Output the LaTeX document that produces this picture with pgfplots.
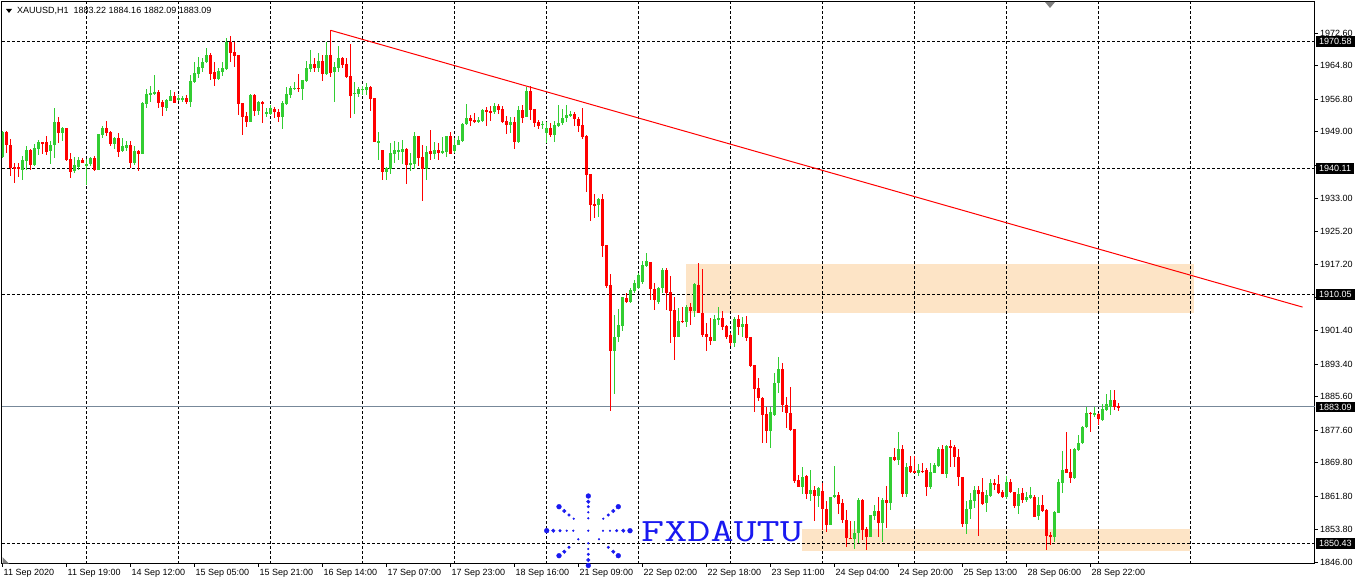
\documentclass[border=0pt]{standalone}
\usepackage{graphicx}
\usepackage{pgfplots}
\pgfplotsset{compat=1.18}
\usepackage{pgfplotstable}
\usepackage{fontspec}
\setmainfont{Liberation Sans}
\definecolor{cgreen}{RGB}{50,205,50}
\definecolor{cred}{RGB}{255,0,0}
\definecolor{peach}{RGB}{253,228,198}
\definecolor{bidgrey}{RGB}{119,136,153}
\definecolor{wmblue}{RGB}{25,25,240}

\pgfplotstableread{
i O H L C
0 1942.84 1949.06 1942.68 1948.82
1 1948.90 1949.22 1943.87 1945.71
2 1945.87 1947.23 1938.29 1940.28
3 1940.52 1941.48 1936.69 1940.12
4 1940.44 1941.48 1938.13 1939.96
5 1939.88 1943.08 1937.49 1942.20
6 1942.04 1945.47 1939.88 1944.59
7 1944.59 1944.91 1939.88 1941.08
8 1941.08 1946.03 1940.84 1945.07
9 1944.91 1946.99 1943.48 1946.51
10 1946.51 1946.51 1943.64 1946.27
11 1946.51 1948.02 1943.48 1944.11
12 1944.43 1946.67 1941.24 1945.87
13 1945.71 1954.65 1942.68 1951.30
14 1951.30 1952.49 1946.27 1948.74
15 1948.74 1950.18 1946.75 1949.94
16 1949.86 1949.86 1942.04 1942.20
17 1942.44 1943.87 1937.89 1939.33
18 1939.49 1942.84 1939.01 1941.08
19 1940.60 1942.84 1939.88 1942.20
20 1942.20 1942.68 1941.48 1941.56
21 1940.92 1942.52 1936.29 1941.24
22 1941.24 1942.84 1940.68 1942.68
23 1942.68 1943.08 1939.65 1939.88
24 1939.88 1948.42 1939.88 1948.42
25 1948.26 1950.42 1947.47 1949.86
26 1949.86 1951.46 1947.86 1948.58
27 1948.82 1949.22 1945.47 1946.03
28 1946.03 1947.79 1944.91 1947.47
29 1947.47 1948.58 1942.92 1944.11
30 1944.43 1947.47 1944.11 1945.47
31 1945.07 1946.83 1944.43 1945.87
32 1945.87 1946.83 1940.28 1941.48
33 1941.48 1945.47 1940.92 1944.35
34 1944.35 1944.67 1939.65 1943.64
35 1943.64 1956.08 1943.64 1955.84
36 1955.61 1959.20 1954.65 1958.00
37 1957.84 1959.99 1956.08 1958.24
38 1958.08 1962.55 1957.84 1958.48
39 1958.48 1958.96 1954.65 1955.84
40 1956.16 1956.56 1952.73 1954.89
41 1954.65 1956.88 1953.85 1956.64
42 1956.40 1958.96 1956.24 1957.44
43 1957.44 1958.48 1955.84 1955.84
44 1956.72 1957.84 1956.32 1957.12
45 1956.72 1957.44 1956.08 1957.12
46 1957.04 1957.84 1955.61 1956.08
47 1956.01 1962.55 1954.97 1961.11
48 1960.95 1965.74 1960.55 1962.95
49 1962.87 1966.94 1961.75 1964.54
50 1964.31 1966.54 1963.35 1965.74
51 1965.58 1969.09 1965.34 1967.34
52 1967.34 1967.74 1961.35 1962.79
53 1963.35 1965.58 1960.00 1961.59
54 1961.59 1964.15 1961.35 1963.51
55 1963.35 1965.58 1962.39 1964.31
56 1963.99 1971.49 1963.75 1970.53
57 1970.53 1971.97 1965.74 1967.74
58 1968.14 1970.53 1964.54 1967.18
59 1967.34 1967.34 1952.97 1955.61
60 1955.77 1955.77 1948.19 1952.57
61 1952.73 1953.61 1950.18 1951.38
62 1951.38 1958.00 1951.38 1957.76
63 1957.76 1957.92 1952.81 1953.93
64 1953.93 1956.33 1952.97 1956.01
65 1956.01 1956.33 1951.14 1955.61
66 1953.29 1954.73 1952.57 1953.77
67 1953.21 1955.37 1952.97 1954.57
68 1954.41 1954.97 1952.34 1953.77
69 1953.77 1954.41 1951.22 1952.57
70 1952.57 1956.33 1949.54 1955.77
71 1955.61 1959.76 1955.37 1958.00
72 1957.76 1959.92 1957.12 1959.36
73 1959.12 1960.79 1958.96 1959.52
74 1959.52 1962.71 1958.56 1959.20
75 1959.20 1961.35 1956.56 1961.35
76 1961.11 1965.90 1960.95 1964.31
77 1963.99 1968.53 1963.19 1965.10
78 1965.18 1966.54 1963.35 1964.15
79 1964.31 1967.74 1963.35 1965.90
80 1965.90 1967.34 1961.19 1962.79
81 1962.71 1970.53 1962.55 1967.34
82 1967.34 1973.25 1962.15 1963.11
83 1963.19 1965.74 1956.17 1964.54
84 1964.31 1969.57 1963.19 1966.70
85 1966.70 1966.94 1964.15 1964.94
86 1965.18 1966.54 1961.75 1962.15
87 1962.31 1969.97 1952.34 1957.60
88 1958.08 1960.79 1953.13 1958.32
89 1958.08 1959.76 1957.36 1959.20
90 1958.96 1960.00 1957.76 1959.20
91 1958.96 1960.55 1957.76 1959.76
92 1959.76 1960.00 1953.93 1956.80
93 1957.12 1957.12 1946.43 1946.43
94 1946.43 1948.82 1942.20 1946.75
95 1944.59 1944.59 1937.41 1939.40
96 1939.40 1940.44 1937.41 1940.20
97 1939.96 1946.19 1938.85 1943.95
98 1943.63 1946.83 1941.40 1944.59
99 1944.19 1946.59 1942.20 1944.59
100 1944.19 1946.99 1941.24 1944.83
101 1944.83 1945.15 1936.45 1941.00
102 1941.00 1943.79 1939.64 1941.48
103 1941.24 1948.82 1939.96 1948.02
104 1948.02 1948.02 1940.76 1942.76
105 1943.00 1945.79 1932.46 1939.96
106 1939.96 1945.55 1937.41 1944.19
107 1944.35 1949.38 1942.20 1943.55
108 1943.55 1946.59 1942.52 1944.59
109 1944.59 1946.19 1942.20 1943.95
110 1943.95 1947.62 1943.63 1944.35
111 1944.03 1947.94 1942.84 1947.94
112 1947.94 1948.98 1943.63 1943.63
113 1944.43 1947.38 1943.79 1945.79
114 1945.79 1948.02 1945.79 1946.99
115 1946.83 1950.98 1946.59 1950.82
116 1950.74 1955.60 1950.58 1952.17
117 1952.17 1952.97 1950.34 1951.61
118 1951.77 1953.53 1950.98 1951.53
119 1951.53 1952.41 1950.98 1951.77
120 1951.61 1954.33 1951.37 1954.17
121 1954.17 1954.97 1950.34 1953.77
122 1953.93 1955.13 1951.61 1953.61
123 1953.61 1955.76 1953.21 1955.13
124 1955.13 1955.60 1953.21 1954.17
125 1954.41 1955.13 1950.98 1951.37
126 1951.53 1952.73 1948.42 1950.58
127 1950.58 1952.41 1948.58 1951.37
128 1951.37 1952.41 1944.83 1946.59
129 1946.59 1955.13 1946.19 1954.17
130 1954.17 1955.36 1950.98 1952.33
131 1952.57 1959.59 1952.57 1958.72
132 1958.72 1959.91 1951.77 1954.17
133 1954.41 1954.41 1950.02 1951.14
134 1951.30 1951.77 1949.54 1950.42
135 1950.50 1951.61 1949.62 1950.90
136 1948.74 1951.37 1946.19 1949.78
137 1949.78 1950.98 1947.62 1948.18
138 1948.10 1951.61 1946.59 1950.58
139 1950.34 1955.36 1950.18 1951.14
140 1950.98 1954.33 1950.58 1952.17
141 1952.17 1955.36 1951.37 1952.97
142 1952.90 1953.94 1952.58 1953.22
143 1953.22 1953.70 1950.43 1951.94
144 1952.02 1952.42 1948.99 1950.43
145 1950.58 1954.57 1947.23 1947.63
146 1947.95 1948.19 1934.62 1938.61
147 1938.85 1938.85 1927.68 1931.43
148 1931.67 1933.99 1928.24 1931.35
149 1931.35 1933.03 1928.64 1932.87
150 1932.87 1933.99 1919.06 1921.62
151 1921.86 1921.86 1911.48 1912.12
152 1912.28 1914.91 1882.20 1896.56
153 1896.56 1905.10 1886.19 1899.75
154 1899.75 1906.46 1898.71 1902.70
155 1902.47 1909.49 1901.35 1909.33
156 1909.17 1910.29 1908.05 1908.29
157 1908.21 1911.48 1908.05 1911.08
158 1910.92 1913.48 1910.29 1912.68
159 1911.48 1915.07 1911.24 1914.67
160 1913.08 1918.11 1912.52 1917.15
161 1916.91 1919.86 1916.67 1918.03
162 1917.71 1917.87 1908.69 1911.32
163 1911.32 1912.68 1906.30 1908.69
164 1908.29 1911.88 1907.73 1911.48
165 1911.48 1916.27 1910.45 1915.87
166 1915.87 1916.27 1906.30 1910.45
167 1910.53 1914.44 1898.32 1906.14
168 1906.30 1909.49 1894.33 1899.75
169 1899.75 1906.69 1899.75 1903.74
170 1903.74 1907.09 1903.26 1903.50
171 1903.50 1907.49 1902.31 1906.93
172 1906.93 1907.89 1902.70 1906.14
173 1905.98 1912.68 1904.70 1912.44
174 1912.28 1917.47 1905.50 1905.50
175 1905.50 1916.03 1899.75 1900.31
176 1900.47 1903.26 1896.56 1899.75
177 1899.75 1904.30 1897.92 1898.95
178 1898.95 1905.10 1898.95 1904.06
179 1903.90 1906.93 1902.70 1904.30
180 1904.30 1906.14 1901.51 1902.31
181 1902.47 1902.70 1899.27 1899.75
182 1900.31 1900.71 1897.68 1898.32
183 1898.48 1904.70 1897.52 1904.14
184 1904.14 1905.10 1900.31 1902.31
185 1902.31 1904.70 1899.91 1902.94
186 1902.94 1904.86 1898.95 1899.51
187 1899.75 1899.91 1892.57 1892.89
188 1893.05 1893.05 1881.96 1887.30
189 1887.55 1889.95 1884.60 1885.16
190 1885.32 1885.56 1874.39 1881.17
191 1881.41 1883.16 1874.55 1877.42
192 1877.42 1883.00 1873.19 1881.97
193 1881.17 1891.30 1880.93 1888.91
194 1888.75 1895.13 1886.36 1892.18
195 1892.18 1893.54 1881.97 1883.56
196 1883.56 1885.56 1877.98 1881.57
197 1881.73 1887.79 1877.42 1877.58
198 1877.82 1877.82 1864.97 1865.45
199 1865.61 1866.80 1863.85 1864.01
200 1864.01 1868.64 1862.26 1866.41
201 1866.57 1866.80 1860.98 1862.26
202 1862.26 1868.00 1860.66 1863.21
203 1863.21 1864.17 1855.87 1861.78
204 1861.78 1863.85 1859.06 1863.77
205 1862.97 1864.81 1853.64 1858.59
206 1858.59 1860.66 1853.24 1854.83
207 1854.83 1861.62 1854.83 1861.62
208 1861.46 1868.96 1861.22 1862.02
209 1862.02 1862.81 1857.47 1859.86
210 1860.02 1860.98 1855.23 1856.03
211 1856.03 1858.43 1849.65 1851.64
212 1851.80 1855.87 1851.56 1851.56
213 1851.48 1855.87 1849.01 1853.00
214 1852.84 1861.22 1850.45 1860.82
215 1860.82 1861.14 1851.24 1853.64
216 1853.80 1854.44 1848.85 1852.04
217 1852.04 1857.23 1852.04 1857.23
218 1857.07 1859.62 1856.03 1858.19
219 1858.19 1861.62 1852.04 1855.39
220 1855.39 1861.22 1850.84 1860.82
221 1860.82 1864.17 1854.04 1860.18
222 1860.18 1871.03 1858.43 1871.03
223 1871.03 1873.19 1870.24 1870.40
224 1870.40 1877.18 1869.20 1872.95
225 1872.95 1873.99 1861.62 1862.26
226 1862.26 1869.60 1861.62 1868.80
227 1868.96 1871.35 1867.36 1867.60
228 1867.76 1871.35 1867.36 1867.52
229 1867.36 1869.44 1866.57 1868.00
230 1867.84 1869.60 1867.20 1867.60
231 1868.00 1868.40 1861.86 1863.85
232 1863.85 1869.60 1863.37 1867.60
233 1867.36 1869.60 1867.20 1869.20
234 1868.96 1873.43 1868.64 1873.03
235 1873.03 1873.99 1866.96 1866.96
236 1866.96 1873.99 1866.01 1873.75
237 1873.75 1875.19 1868.64 1873.35
238 1873.59 1873.91 1868.64 1871.04
239 1871.20 1872.95 1864.17 1866.25
240 1866.41 1866.41 1854.28 1855.08
241 1855.08 1860.66 1852.68 1858.59
242 1858.59 1862.42 1856.19 1860.82
243 1860.66 1864.17 1858.83 1863.22
244 1863.22 1864.17 1852.20 1862.26
245 1862.82 1866.01 1859.62 1859.86
246 1860.02 1863.22 1858.03 1862.02
247 1861.78 1865.77 1861.62 1864.97
248 1864.97 1865.77 1863.22 1864.41
249 1864.65 1866.81 1862.26 1862.58
250 1862.74 1863.22 1861.22 1861.62
251 1861.62 1866.57 1860.98 1865.13
252 1865.21 1865.77 1862.58 1862.82
253 1862.82 1862.82 1858.83 1859.39
254 1859.39 1863.61 1857.47 1862.26
255 1862.42 1863.61 1860.18 1860.82
256 1860.82 1862.82 1860.42 1861.46
257 1861.22 1864.01 1860.98 1862.02
258 1861.62 1862.02 1856.67 1856.83
259 1856.99 1861.46 1856.03 1859.62
260 1859.62 1862.02 1858.03 1858.27
261 1858.43 1858.59 1848.85 1852.20
262 1852.44 1853.24 1850.05 1852.04
263 1852.04 1858.27 1850.85 1857.95
264 1857.79 1865.77 1857.63 1865.21
265 1864.97 1872.63 1862.58 1868.00
266 1868.16 1877.18 1867.21 1867.37
267 1867.60 1872.95 1864.81 1866.01
268 1866.01 1873.19 1865.93 1873.03
269 1872.79 1876.38 1872.63 1874.55
270 1874.39 1878.54 1874.23 1878.38
271 1878.22 1883.17 1877.98 1881.73
272 1881.73 1881.97 1877.18 1881.41
273 1881.25 1883.17 1880.77 1881.57
274 1881.41 1881.57 1878.78 1880.13
275 1879.97 1883.80 1879.81 1882.53
276 1882.37 1886.20 1882.21 1883.80
277 1883.17 1887.16 1881.17 1884.76
278 1884.76 1887.16 1882.37 1883.17
279 1883.22 1884.16 1882.09 1883.09
}\candles

\pgfplotsset{
  wick/.style={draw=none, no markers, forget plot,
    error bars/y dir=both, error bars/y explicit, error bars/error mark=none,
    error bars/error bar style={draw=#1, solid, line width=1pt}},
  body/.style={draw=none, no markers, forget plot,
    error bars/y dir=both, error bars/y explicit, error bars/error mark=none,
    error bars/error bar style={draw=#1, solid, line width=3pt}},
  dashline/.style={black, line width=1pt, dash pattern=on 3pt off 2pt, forget plot},
}
\tikzset{
  pbox/.style={fill=black, text=white, anchor=west, inner xsep=3pt, inner ysep=1.5pt, minimum height=10.5pt, font=\fontsize{9}{10}\selectfont},
}

\begin{document}
\begin{tikzpicture}
\useasboundingbox (0pt,0pt) rectangle (1359pt,583pt);
\begin{axis}[
  at={(2pt,19pt)}, anchor=south west, scale only axis,
  width=1313pt, height=562pt,
  xmin=-0.125, xmax=328.125, ymin=1845.51, ymax=1980.02,
  axis line style={black, line width=1pt},
  tick align=outside, major tick length=3pt,
  tick style={black, line width=0.8pt},
  xtick pos=bottom, ytick pos=right,
  xtick={0,16,...,272},
  xticklabels={11 Sep 2020,11 Sep 19:00,14 Sep 12:00,15 Sep 05:00,15 Sep 21:00,16 Sep 14:00,17 Sep 07:00,17 Sep 23:00,18 Sep 16:00,21 Sep 09:00,22 Sep 02:00,22 Sep 18:00,23 Sep 11:00,24 Sep 04:00,24 Sep 20:00,25 Sep 13:00,28 Sep 06:00,28 Sep 22:00},
  xticklabel style={anchor=north west, inner sep=0pt, font=\fontsize{9}{10}\selectfont, xshift=1pt, yshift=-2pt},
  ytick={1846.00,1853.80,1861.80,1869.80,1877.60,1885.60,1893.40,1901.40,1909.40,1917.20,1925.20,1933.00,1941.00,1949.00,1956.80,1964.80,1972.60},
  yticklabels={1846.00,1853.80,1861.80,1869.80,1877.60,1885.60,1893.40,1901.40,{},1917.20,1925.20,1933.00,{},1949.00,1956.80,1964.80,1972.60},
  yticklabel style={anchor=west, inner sep=0pt, font=\fontsize{9}{10}\selectfont, xshift=2pt},
]
% zones
\addplot[fill=peach, draw=none, forget plot] coordinates {(171,1905.65) (297.9,1905.65) (297.9,1917.31) (171,1917.31)} -- cycle;
\addplot[fill=peach, draw=none, forget plot] coordinates {(200,1848.62) (297,1848.62) (297,1853.88) (200,1853.88)} -- cycle;
% vertical grid
\pgfplotsinvokeforeach{21,44,67,90,113,136,159,182,205,228,251,274,297}{
  \addplot[dashline] coordinates {(#1,1845.51) (#1,1980.02)};
}
% horizontal levels
\pgfplotsinvokeforeach{1970.58,1940.11,1910.05,1850.43}{
  \addplot[dashline] coordinates {(-0.125,#1) (328.125,#1)};
}
\addplot[bidgrey, line width=1pt, forget plot] coordinates {(-0.125,1883.09) (328.125,1883.09)};
% candles
\addplot[wick=cgreen, x filter/.expression={\thisrow{C}>=\thisrow{O} ? x : nan}]
  table[x=i, y expr={(\thisrow{H}+\thisrow{L})/2}, y error expr={(\thisrow{H}-\thisrow{L})/2}] {\candles};
\addplot[wick=cred, x filter/.expression={\thisrow{C}<\thisrow{O} ? x : nan}]
  table[x=i, y expr={(\thisrow{H}+\thisrow{L})/2}, y error expr={(\thisrow{H}-\thisrow{L})/2}] {\candles};
\addplot[body=cgreen, x filter/.expression={\thisrow{C}>=\thisrow{O} ? x : nan}]
  table[x=i, y expr={(\thisrow{O}+\thisrow{C})/2}, y error expr={max(abs(\thisrow{C}-\thisrow{O})/2,0.12)}] {\candles};
\addplot[body=cred, x filter/.expression={\thisrow{C}<\thisrow{O} ? x : nan}]
  table[x=i, y expr={(\thisrow{O}+\thisrow{C})/2}, y error expr={max(abs(\thisrow{C}-\thisrow{O})/2,0.12)}] {\candles};
% trend line
\addplot[cred, line width=1pt, forget plot] coordinates {(82,1973.25) (325,1907.0)};
\end{axis}

% overlay in pixel coordinates
\begin{axis}[
  at={(0pt,0pt)}, anchor=south west, scale only axis,
  width=1359pt, height=583pt,
  xmin=0, xmax=1359, ymin=0, ymax=583, y dir=reverse,
  hide axis, clip=false,
]
% title
\addplot[fill=black, draw=none, forget plot] coordinates {(6,9) (12,9) (9,13)} -- cycle;
\node[anchor=base west, inner sep=0pt, font=\fontsize{9}{10}\selectfont] at (axis cs:17,14) {XAUUSD,H1\ \ 1883.22 1884.16 1882.09 1883.09};
% markers
\addplot[fill=gray, draw=none, forget plot] coordinates {(1045,2) (1055,2) (1050,8)} -- cycle;
\addplot[fill=gray, draw=none, forget plot] coordinates {(2.5,557) (2.5,563.5) (9,563.5)} -- cycle;
% price boxes
\node[pbox] at (axis cs:1316,41.4) {1970.58};
\node[pbox] at (axis cs:1316,168.7) {1940.11};
\node[pbox] at (axis cs:1316,294.3) {1910.05};
\node[pbox] at (axis cs:1316,407.0) {1883.09};
\node[pbox] at (axis cs:1316,543.4) {1850.43};
% watermark logo
\addplot[only marks, mark=*, mark size=2.4pt, wmblue, forget plot] coordinates {
 (546.7,530.7) (630,530.7) (588.3,496) (588.3,565.5) (559,506.7) (618.3,506.7) (559,555.7) (618.3,555.7)};
\addplot[only marks, mark=*, mark size=1.8pt, wmblue, forget plot] coordinates {
 (553.3,530.7) (623.3,530.7) (588.3,501.7) (588.3,560) (564.3,511) (613.3,511) (564.3,551.7) (613.3,551.7)};
\addplot[only marks, mark=*, mark size=1.3pt, wmblue, forget plot] coordinates {
 (560,530.7) (616.7,530.7) (588.3,506.7) (588.3,554.3) (569,515) (608.3,515) (569,547.3) (608.3,547.3)};
\addplot[only marks, mark=*, mark size=0.9pt, wmblue, forget plot] coordinates {
 (566.7,530.7) (610,530.7) (588.3,512.3) (588.3,549) (573.7,518.7) (603.3,518.7) (578.3,539.3) (599,539.3)
 (573.3,530.7) (603,530.7) (588.3,518.3) (588.3,543.3) (588.3,530.7)};
\node[anchor=base west, inner sep=0pt, text=wmblue, font=\ttfamily\fontsize{32.5}{33}\selectfont\addfontfeatures{FakeBold=1.5}] at (axis cs:641,541) {\scalebox{1.38}[1]{FXDAUTU}};
\end{axis}
\end{tikzpicture}
\end{document}
